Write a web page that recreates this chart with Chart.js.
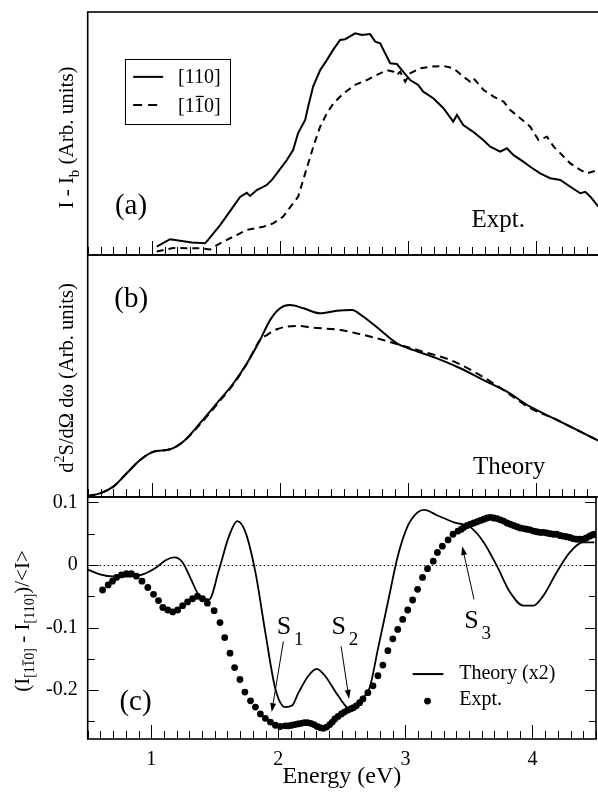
<!DOCTYPE html>
<html><head><meta charset="utf-8">
<script src="https://cdn.jsdelivr.net/npm/chart.js@4/dist/chart.umd.min.js"></script>
<style>
html,body{margin:0;padding:0;overflow:hidden;background:#fff;width:598px;height:798px;}
canvas{position:absolute;left:0;top:0;}
</style></head><body>
<canvas id="ca" width="600" height="798"></canvas>
<canvas id="cb" width="600" height="798"></canvas>
<canvas id="cc" width="600" height="798"></canvas>
<script>
// ---------- data ----------
const xTickLabels = [1, 2, 3, 4];
const yTicksC = [-0.2, -0.1, 0, 0.1];
const yTickLabelsC = ['-0.2', '-0.1', '0', '0.1'];
const seriesNames = ['[110]', '[1\u030410]'];

// panel (a) experiment
const aSolidX = [1.039,1.143,1.221,1.313,1.416,1.44,1.534,1.635,1.69,1.742,1.768,1.82,1.898,1.938,1.977,2.055,2.104,2.143,2.198,2.221,2.26,2.315,2.367,2.416,2.471,2.51,2.588,2.641,2.705,2.745,2.784,2.836,2.862,2.914,2.953,3.018,3.08,3.12,3.198,3.276,3.354,3.383,3.432,3.51,3.588,3.643,3.721,3.773,3.823,3.901,3.955,4.033,4.111,4.19,4.268,4.346,4.385,4.425,4.487];
const aSolidY = [3.4,6.5,5.9,5.1,4.8,6.2,12.3,19.8,23.9,25.6,24.3,26.7,28.8,30.9,33.6,39.1,43.2,50.2,55.6,61.0,69.3,76.1,80.2,84.4,88.5,88.8,91.2,90.5,90.9,87.8,87.1,81.6,78.9,78.6,76.1,72.0,70.0,67.2,64.5,60.5,54.9,57.6,53.5,50.7,47.3,44.6,42.5,43.9,41.2,38.4,36.3,33.6,31.6,30.9,28.1,25.4,26.0,24.0,19.9];
const aDashX = [1.039,1.166,1.273,1.377,1.455,1.534,1.635,1.742,1.87,1.948,2.026,2.104,2.143,2.198,2.262,2.315,2.367,2.419,2.497,2.588,2.68,2.758,2.836,2.888,2.914,2.94,2.979,3.018,3.096,3.174,3.278,3.356,3.434,3.487,3.513,3.591,3.669,3.747,3.799,3.877,3.955,4.02,4.086,4.138,4.19,4.268,4.346,4.398,4.487];
const aDashY = [1.4,2.9,2.8,2.8,2.3,4.8,7.5,10.3,11.6,13.0,15.8,21.3,24.0,33.6,44.6,52.8,58.3,62.4,66.5,70.0,72.0,74.1,76.1,75.4,74.1,75.4,71.3,74.8,76.8,77.5,77.8,76.8,73.4,71.3,72.7,67.9,65.2,63.1,59.7,56.3,52.8,47.3,48.7,44.6,41.9,37.7,35.0,33.6,35.0];

// panel (b) theory
const bSolidX = [0.497,0.596,0.7,0.805,0.909,1.013,1.143,1.247,1.377,1.508,1.638,1.742,1.846,1.924,2.002,2.08,2.184,2.315,2.445,2.563,2.653,2.784,2.914,3.044,3.227,3.409,3.591,3.773,3.955,4.138,4.32,4.487];
const bSolidY = [0.4,1.5,4.3,9.8,15.3,18.7,19.7,22.9,30.5,38.7,47.0,55.2,64.9,73.1,78.0,79.3,78.0,75.9,77.0,77.3,74.5,69.0,63.5,60.7,57.3,53.2,48.3,43.5,37.3,32.5,27.7,23.3];
const bDashX = [0.497,0.596,0.7,0.805,0.909,1.013,1.143,1.247,1.377,1.508,1.638,1.742,1.846,1.898,1.977,2.055,2.159,2.237,2.471,2.602,2.758,2.94,3.122,3.33,3.539,3.747,3.955,4.138,4.32,4.487];
const bDashY = [0.4,1.5,4.3,9.8,15.3,18.7,19.7,22.9,30.0,38.2,46.6,55.0,64.9,66.9,69.3,70.4,70.7,70.1,69.0,67.6,65.6,62.8,60.0,56.6,51.1,44.2,36.7,32.5,27.7,23.3];

// panel (c) anisotropy
const cTheoryX = [0.497,0.596,0.7,0.83,0.934,1.039,1.117,1.182,1.247,1.313,1.377,1.455,1.534,1.612,1.677,1.742,1.82,1.898,1.977,2.055,2.106,2.159,2.237,2.302,2.367,2.471,2.563,2.653,2.719,2.784,2.862,2.94,3.018,3.096,3.148,3.252,3.383,3.513,3.617,3.721,3.825,3.93,4.008,4.086,4.19,4.294,4.398,4.487];
const cTheoryY = [-0.007,-0.015,-0.0185,-0.0185,-0.015,-0.004,0.008,0.012,0.004,-0.023,-0.049,-0.055,-0.007,0.046,0.070,0.052,-0.012,-0.108,-0.198,-0.227,-0.225,-0.204,-0.177,-0.166,-0.177,-0.209,-0.230,-0.214,-0.196,-0.134,-0.060,0.014,0.062,0.084,0.088,0.079,0.068,0.060,0.036,-0.002,-0.044,-0.065,-0.065,-0.049,-0.012,0.020,0.036,0.036];
const cExptX = [0.617,0.661,0.695,0.727,0.766,0.805,0.844,0.883,0.927,0.973,1.018,1.057,1.091,1.130,1.169,1.208,1.247,1.286,1.325,1.364,1.403,1.442,1.495,1.541,1.578,1.62,1.656,1.698,1.737,1.781,1.82,1.859,1.898,1.938,1.977,2.016,2.055,
2.08,2.105,2.13,2.155,2.18,2.205,2.23,2.255,2.28,2.305,2.33,2.355,2.38,2.405,2.425,2.445,2.47,2.497,2.52,2.545,2.57,2.59,2.614,2.64,2.666,2.705,2.745,2.784,2.823,2.862,2.901,2.94,2.979,3.018,3.057,3.096,3.135,3.174,3.219,3.252,3.291,3.336,3.375,3.414,3.44,
3.461,3.487,3.513,3.539,3.565,3.591,3.617,3.643,3.669,3.695,3.721,3.747,3.773,3.799,3.825,3.851,3.877,3.903,3.93,3.955,3.981,4.008,4.034,4.06,4.086,4.112,4.138,4.164,4.19,4.216,4.242,4.268,4.294,4.32,4.346,4.372,4.398,4.424,4.45,4.47,4.489];
const cExptY = [-0.040,-0.032,-0.026,-0.020,-0.016,-0.014,-0.014,-0.018,-0.026,-0.036,-0.047,-0.057,-0.068,-0.072,-0.075,-0.072,-0.065,-0.059,-0.054,-0.050,-0.054,-0.061,-0.073,-0.092,-0.116,-0.141,-0.164,-0.183,-0.203,-0.217,-0.227,-0.238,-0.245,-0.251,-0.256,-0.258,-0.257,
-0.257,-0.256,-0.255,-0.254,-0.253,-0.252,-0.252,-0.253,-0.255,-0.258,-0.260,-0.261,-0.259,-0.255,-0.251,-0.246,-0.242,-0.238,-0.235,-0.232,-0.230,-0.228,-0.225,-0.220,-0.214,-0.204,-0.193,-0.177,-0.160,-0.137,-0.118,-0.103,-0.087,-0.072,-0.056,-0.039,-0.020,-0.006,0.006,0.020,0.030,0.040,0.049,0.054,0.057,
0.060,0.063,0.065,0.067,0.069,0.071,0.073,0.075,0.076,0.075,0.074,0.072,0.070,0.067,0.065,0.063,0.061,0.059,0.058,0.057,0.056,0.054,0.053,0.052,0.052,0.051,0.050,0.049,0.049,0.047,0.046,0.045,0.044,0.042,0.041,0.041,0.041,0.043,0.046,0.048,0.049];

// annotations of panel (c): label position and arrow tail/head (data coords)
const cNotes = [
  {sub:'1', x:2.045, y:-0.0994, x1:2.04, y1:-0.122, x2:1.948, y2:-0.235},
  {sub:'2', x:2.475, y:-0.0994, x1:2.494, y1:-0.130, x2:2.557, y2:-0.214},
  {sub:'3', x:3.52,  y:-0.090,  x1:3.54, y1:-0.055, x2:3.447, y2:0.030}
];

// ---------- helpers ----------
const FONT = '"Liberation Serif", "Times New Roman", Times, serif';
Chart.defaults.font.family = FONT;
Chart.defaults.color = '#000';
const P = (xs, ys) => xs.map((x, i) => ({x: x, y: ys[i]}));

function frame(chart, yTicks) {
  const {ctx, chartArea: a, scales: {x, y}} = chart;
  ctx.save();
  ctx.strokeStyle = '#000';
  ctx.lineWidth = 1;
  ctx.beginPath();
  for (let i = 5; i <= 45; i++) {
    const px = Math.round(x.getPixelForValue(i / 10)) + 0.5;
    const len = i % 10 === 0 ? 14 : 8;
    ctx.moveTo(px, a.bottom); ctx.lineTo(px, a.bottom - len);
  }
  if (yTicks) {
    for (let k = -5; k <= 2; k++) {
      const py = Math.round(y.getPixelForValue(k * 0.05)) + 0.5;
      const len = k % 2 === 0 ? 11 : 7;
      ctx.moveTo(a.left, py); ctx.lineTo(a.left + len, py);
      ctx.moveTo(a.right, py); ctx.lineTo(a.right - len, py);
    }
  }
  ctx.stroke();
  ctx.lineWidth = 1.6;
  ctx.strokeRect(a.left, a.top, a.right - a.left, a.bottom - a.top);
  ctx.restore();
}

function txt(ctx, s, x, y, size, align) {
  ctx.save();
  ctx.font = size + 'px ' + FONT;
  ctx.fillStyle = '#000';
  ctx.textAlign = align || 'center';
  ctx.textBaseline = 'middle';
  ctx.fillText(s, x, y);
  ctx.restore();
}

// rich text: parts = [{t, s, dy, over}] ; drawn centred at (x,y), optionally rotated
function rich(ctx, parts, x, y, rot, align) {
  ctx.save();
  ctx.translate(x, y);
  if (rot) ctx.rotate(rot);
  ctx.fillStyle = '#000'; ctx.strokeStyle = '#000';
  ctx.textBaseline = 'alphabetic'; ctx.textAlign = 'left';
  let w = 0;
  parts.forEach(p => { ctx.font = p.s + 'px ' + FONT; p.w = ctx.measureText(p.t).width; w += p.w; });
  const base = parts[0].s * 0.33;
  let cx = align === 'left' ? 0 : -w / 2;
  parts.forEach(p => {
    ctx.font = p.s + 'px ' + FONT;
    const by = base + (p.dy || 0);
    ctx.fillText(p.t, cx, by);
    if (p.over != null) {
      const pre = ctx.measureText(p.t.slice(0, p.over)).width;
      const cw = ctx.measureText(p.t[p.over]).width;
      ctx.lineWidth = Math.max(1, p.s / 16);
      ctx.beginPath();
      ctx.moveTo(cx + pre + cw * 0.1, by - p.s * 0.76);
      ctx.lineTo(cx + pre + cw * 0.9, by - p.s * 0.76);
      ctx.stroke();
    }
    cx += p.w;
  });
  ctx.restore();
}

function arrow(ctx, x1, y1, x2, y2) {
  const ang = Math.atan2(y2 - y1, x2 - x1), L = 9, W = 3;
  ctx.save();
  ctx.strokeStyle = '#000'; ctx.fillStyle = '#000'; ctx.lineWidth = 1;
  ctx.beginPath(); ctx.moveTo(x1, y1); ctx.lineTo(x2 - L * Math.cos(ang), y2 - L * Math.sin(ang)); ctx.stroke();
  ctx.beginPath();
  ctx.moveTo(x2, y2);
  ctx.lineTo(x2 - L * Math.cos(ang) + W * Math.sin(ang), y2 - L * Math.sin(ang) - W * Math.cos(ang));
  ctx.lineTo(x2 - L * Math.cos(ang) - W * Math.sin(ang), y2 - L * Math.sin(ang) + W * Math.cos(ang));
  ctx.closePath(); ctx.fill();
  ctx.restore();
}

const baseOpts = (padTop, padBottom) => ({
  responsive: false, animation: false, events: [],
  layout: {padding: {left: 87.7, right: 0, top: padTop, bottom: padBottom}},
  plugins: {legend: {display: false}, tooltip: {enabled: false}},
  scales: {
    x: {type: 'linear', min: 0.5, max: 4.5, display: false},
    y: {type: 'linear', min: 0, max: 100, display: false}
  }
});

// ---------- panel (a) ----------
const decoA = {
  id: 'decoA',
  afterDraw(chart) {
    const {ctx, chartArea: a, scales: {x, y}} = chart;
    frame(chart, false);
    txt(ctx, '(a)', x.getPixelForValue(0.838), y.getPixelForValue(19.8), 29);
    txt(ctx, 'Expt.', x.getPixelForValue(3.706), y.getPixelForValue(14.4), 25);
    // legend box
    const bl = x.getPixelForValue(0.792), br = x.getPixelForValue(1.613);
    const bt = y.getPixelForValue(80.7), bb = y.getPixelForValue(53.9);
    ctx.save();
    ctx.strokeStyle = '#000'; ctx.lineWidth = 1;
    ctx.strokeRect(Math.round(bl) + 0.5, Math.round(bt) + 0.5, Math.round(br - bl), Math.round(bb - bt));
    const l1 = x.getPixelForValue(0.855), l2 = x.getPixelForValue(1.089);
    const y1 = y.getPixelForValue(73.3), y2 = y.getPixelForValue(61.7);
    ctx.lineWidth = 2;
    ctx.beginPath(); ctx.moveTo(l1, y1); ctx.lineTo(l2, y1); ctx.stroke();
    ctx.setLineDash([9, 6]);
    ctx.beginPath(); ctx.moveTo(l1, y2); ctx.lineTo(l2, y2); ctx.stroke();
    ctx.restore();
    const tx = x.getPixelForValue(1.206);
    rich(ctx, [{t: '[110]', s: 20}], tx, y1, 0, 'left');
    rich(ctx, [{t: '[110]', s: 20, over: 2}], tx, y2, 0, 'left');
    // y title
    rich(ctx, [{t: 'I - I', s: 21}, {t: 'b', s: 15, dy: 6}, {t: ' (Arb. units)', s: 21}],
      a.left - 22, (a.top + a.bottom) / 2 + 4, -Math.PI / 2);
  }
};
new Chart(document.getElementById('ca'), {
  type: 'line',
  data: {datasets: [
    {label: seriesNames[0], data: P(aSolidX, aSolidY), borderColor: '#000', borderWidth: 2, pointRadius: 0, tension: 0},
    {label: seriesNames[1], data: P(aDashX, aDashY), borderColor: '#000', borderWidth: 2, borderDash: [7, 5], pointRadius: 0, tension: 0}
  ]},
  options: baseOpts(12, 543),
  plugins: [decoA]
});

// ---------- panel (b) ----------
const decoB = {
  id: 'decoB',
  afterDraw(chart) {
    const {ctx, chartArea: a, scales: {x, y}} = chart;
    frame(chart, false);
    txt(ctx, '(b)', x.getPixelForValue(0.84), y.getPixelForValue(81.8), 29);
    txt(ctx, 'Theory', x.getPixelForValue(3.79), y.getPixelForValue(12.4), 25);
    rich(ctx, [{t: 'd', s: 20.5}, {t: '2', s: 14, dy: -9}, {t: 'S/d\u03A9 d\u03C9 (Arb. units)', s: 20.5}],
      a.left - 21, (a.top + a.bottom) / 2 + 2, -Math.PI / 2);
  }
};
new Chart(document.getElementById('cb'), {
  type: 'line',
  data: {datasets: [
    {label: 'theory ' + seriesNames[0], data: P(bSolidX, bSolidY), borderColor: '#000', borderWidth: 2, pointRadius: 0, cubicInterpolationMode: 'monotone'},
    {label: 'theory ' + seriesNames[1], data: P(bDashX, bDashY), borderColor: '#000', borderWidth: 2, borderDash: [8, 5], pointRadius: 0, cubicInterpolationMode: 'monotone'}
  ]},
  options: baseOpts(255, 301),
  plugins: [decoB]
});

// ---------- panel (c) ----------
const decoC = {
  id: 'decoC',
  beforeDatasetsDraw(chart) {
    const {ctx, chartArea: a, scales: {y}} = chart;
    const py = Math.round(y.getPixelForValue(0)) + 0.5;
    ctx.save();
    ctx.strokeStyle = '#000'; ctx.lineWidth = 1; ctx.setLineDash([1.5, 2.5]);
    ctx.beginPath(); ctx.moveTo(a.left, py); ctx.lineTo(a.right, py); ctx.stroke();
    ctx.restore();
  },
  afterDraw(chart) {
    const {ctx, chartArea: a, scales: {x, y}} = chart;
    frame(chart, true);
    txt(ctx, '(c)', x.getPixelForValue(0.876), y.getPixelForValue(-0.219), 29);
    // legend
    ctx.save();
    ctx.strokeStyle = '#000'; ctx.fillStyle = '#000'; ctx.lineWidth = 2;
    const ly = y.getPixelForValue(-0.1743);
    ctx.beginPath(); ctx.moveTo(x.getPixelForValue(3.057), ly); ctx.lineTo(x.getPixelForValue(3.299), ly); ctx.stroke();
    ctx.beginPath(); ctx.arc(x.getPixelForValue(3.174), y.getPixelForValue(-0.2174), 3.4, 0, 2 * Math.PI); ctx.fill();
    ctx.restore();
    txt(ctx, 'Theory (x2)', x.getPixelForValue(3.424), ly, 20, 'left');
    txt(ctx, 'Expt.', x.getPixelForValue(3.424), y.getPixelForValue(-0.2158), 20, 'left');
    // S labels and arrows
    cNotes.forEach(n => {
      const px = x.getPixelForValue(n.x), py = y.getPixelForValue(n.y);
      txt(ctx, 'S', px, py, 26);
      txt(ctx, n.sub, px + 10, py + 13, 19, 'left');
      arrow(ctx, x.getPixelForValue(n.x1), y.getPixelForValue(n.y1), x.getPixelForValue(n.x2), y.getPixelForValue(n.y2));
    });
    // y title
    rich(ctx, [{t: '(I', s: 21}, {t: '[110]', s: 14, dy: 5, over: 2}, {t: ' - I', s: 21}, {t: '[110]', s: 14, dy: 5}, {t: ')/<I>', s: 21}],
      a.left - 66, (a.top + a.bottom) / 2 + 3, -Math.PI / 2);
  }
};
new Chart(document.getElementById('cc'), {
  type: 'line',
  data: {datasets: [
    {label: 'Expt.', data: P(cExptX, cExptY), showLine: false, pointRadius: 3.4, pointBackgroundColor: '#000', pointBorderWidth: 0, borderColor: '#000'},
    {label: 'Theory (x2)', data: P(cTheoryX, cTheoryY), borderColor: '#000', borderWidth: 1.8, pointRadius: 0, cubicInterpolationMode: 'monotone'}
  ]},
  options: {
    responsive: false, animation: false, events: [],
    layout: {padding: {left: 0, right: 0, top: 497, bottom: 0}},
    plugins: {legend: {display: false}, tooltip: {enabled: false}},
    scales: {
      x: {
        type: 'linear', min: 0.5, max: 4.5, position: 'bottom',
        grid: {display: false, drawTicks: false}, border: {display: false},
        afterBuildTicks: s => { s.ticks = xTickLabels.map(v => ({value: v})); },
        afterFit: s => { s.height = 59; },
        ticks: {font: {size: 20}, color: '#000', padding: 9, maxRotation: 0, autoSkip: false, callback: v => String(v)},
        title: {display: true, text: 'Energy (eV)', font: {size: 24}, color: '#000', padding: {top: 0, bottom: 7}}
      },
      y: {
        type: 'linear', min: -0.278, max: 0.1085,
        grid: {display: false, drawTicks: false}, border: {display: false},
        afterBuildTicks: s => { s.ticks = yTicksC.map(v => ({value: v})); },
        afterFit: s => { s.width = 87.7; },
        ticks: {font: {size: 20}, color: '#000', padding: 10, autoSkip: false,
          callback: (v, i) => yTickLabelsC[i]}
      }
    }
  },
  plugins: [decoC]
});
</script></body></html>
